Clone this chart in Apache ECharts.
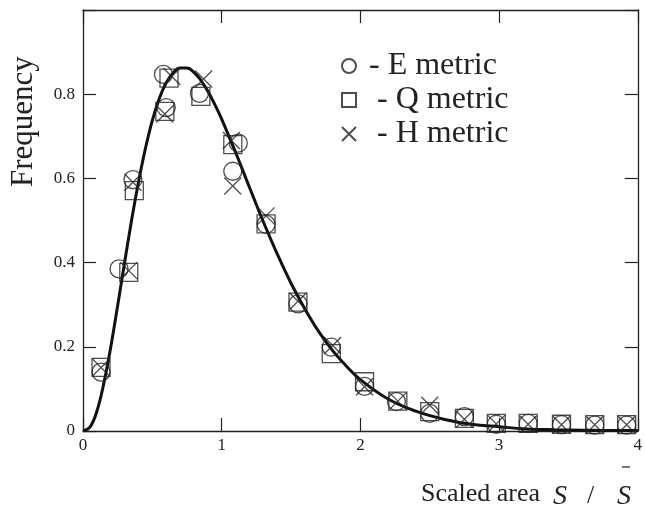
<!DOCTYPE html>
<html>
<head>
<meta charset="utf-8">
<script src="https://cdn.jsdelivr.net/npm/echarts@6/dist/echarts.min.js"></script>
<style>html,body{margin:0;padding:0;background:#fff}#c{width:645px;height:518px}</style>
</head>
<body>
<div id="c"></div>
<script>
// Fitted curve
const curveX = [0,0.05,0.1,0.15,0.2,0.25,0.3,0.35,0.4,0.45,0.5,0.55,0.6,0.65,0.7,0.75,0.8,0.85,0.9,0.95,1.0,1.1,1.2,1.3,1.4,1.5,1.6,1.7,1.8,1.9,2.0,2.2,2.4,2.6,2.8,3.0,3.2,3.4,3.6,3.8,4.0];
const curveY = [0,0.009,0.047,0.113,0.199,0.298,0.400,0.500,0.591,0.671,0.738,0.790,0.827,0.851,0.862,0.862,0.852,0.833,0.807,0.776,0.741,0.662,0.579,0.497,0.421,0.351,0.290,0.236,0.191,0.154,0.122,0.076,0.047,0.028,0.016,0.010,0.005,0.003,0.002,0.001,0.001];

// E metric (circles)
const eX = [0.13,0.26,0.36,0.58,0.60,0.84,1.08,1.12,1.32,1.55,1.79,2.03,2.26,2.50,2.75,2.98,3.21,3.45,3.69,3.92];
const eY = [0.140,0.385,0.597,0.847,0.768,0.802,0.617,0.684,0.491,0.302,0.199,0.106,0.070,0.042,0.034,0.016,0.018,0.015,0.014,0.014];
// Q metric (squares)
const qX = [0.13,0.33,0.37,0.62,0.59,0.85,1.08,1.32,1.55,1.79,2.03,2.27,2.50,2.75,2.98,3.21,3.45,3.69,3.92];
const qY = [0.151,0.377,0.571,0.838,0.759,0.795,0.680,0.492,0.306,0.184,0.117,0.071,0.046,0.030,0.018,0.018,0.016,0.015,0.015];
// H metric (crosses)
const hX = [0.13,0.33,0.36,0.64,0.59,0.87,1.07,1.08,1.32,1.55,1.80,2.03,2.27,2.50,2.75,2.98,3.21,3.45,3.69,3.92];
const hY = [0.151,0.381,0.591,0.842,0.753,0.836,0.690,0.582,0.511,0.308,0.203,0.105,0.071,0.061,0.028,0.017,0.016,0.015,0.015,0.015];

const xTicks = [0,1,2,3,4];
const yTicks = [0,0.2,0.4,0.6,0.8];

const zip = (a,b) => a.map((v,i)=>[v,b[i]]);
const serif = '"Liberation Serif","DejaVu Serif",serif';
const ink = '#222';
const crossPath = 'path://M0,0L10,10M10,0L0,10';

const chart = echarts.init(document.getElementById('c'), null, {renderer:'canvas'});
const axisCommon = {
  min: 0,
  axisLine: {show:true, onZero:false, lineStyle:{color:ink, width:1.3}},
  axisTick: {show:true, inside:true, length:13, lineStyle:{color:ink, width:1.2}},
  splitLine: {show:false}
};
const symStyle = {color:'rgba(0,0,0,0)', borderColor:ink, borderWidth:1.3};
chart.setOption({
  animation:false,
  backgroundColor:'#fff',
  grid:{left:83, top:10, right:5, bottom:87, containLabel:false},
  xAxis:[
    Object.assign({}, axisCommon, {type:'value', max:4, interval:1, position:'bottom',
      axisLabel:{show:true, margin:6, fontFamily:serif, fontSize:17, color:ink,
        formatter: v => xTicks.includes(v) ? String(v) : ''}}),
    Object.assign({}, axisCommon, {type:'value', max:4, interval:1, position:'top',
      axisLabel:{show:false}})
  ],
  yAxis:[
    Object.assign({}, axisCommon, {type:'value', max:1, interval:0.2, position:'left',
      axisLabel:{show:true, margin:8, fontFamily:serif, fontSize:17, color:ink,
        formatter: v => yTicks.some(t=>Math.abs(t-v)<1e-9) ? String(+v.toFixed(1)) : ''}}),
    Object.assign({}, axisCommon, {type:'value', max:1, interval:0.2, position:'right',
      axisLabel:{show:false}})
  ],
  legend:{
    orient:'vertical', left:336, top:44, itemWidth:14, itemHeight:14, itemGap:0,
    data:['E','Q','H'],
    formatter: n => ({E:' - E metric', Q:'  - Q metric', H:'  - H metric'})[n],
    textStyle:{fontFamily:serif, fontSize:32, color:ink, lineHeight:34},
    selectedMode:false
  },
  series:[
    {type:'line', data:zip(curveX,curveY), showSymbol:false, smooth:0.4, silent:true,
      lineStyle:{color:'#111', width:3}, z:3},
    {name:'E', type:'scatter', data:zip(eX,eY), symbol:'circle', symbolSize:18, itemStyle:symStyle, z:4},
    {name:'Q', type:'scatter', data:zip(qX,qY), symbol:'rect', symbolSize:18, itemStyle:symStyle, z:4},
    {name:'H', type:'scatter', data:zip(hX,hY), symbol:crossPath, symbolSize:17, itemStyle:symStyle, z:4}
  ],
  graphic:[
    {type:'text', rotation:Math.PI/2, position:[8,187], style:{text:'Frequency', font:'31px '+serif, fill:ink}},
    {type:'text', position:[421,481], style:{text:'Scaled area', font:'26px '+serif, fill:ink}},
    {type:'text', position:[553,483], style:{text:'S', font:'italic 28px '+serif, fill:ink}},
    {type:'text', position:[587,483], style:{text:'/', font:'26px '+serif, fill:ink}},
    {type:'text', position:[617,483], style:{text:'S', font:'italic 28px '+serif, fill:ink}},
    {type:'line', shape:{x1:622,y1:467,x2:630,y2:467}, style:{stroke:ink, lineWidth:1.2}}
  ]
});
</script>
</body>
</html>
